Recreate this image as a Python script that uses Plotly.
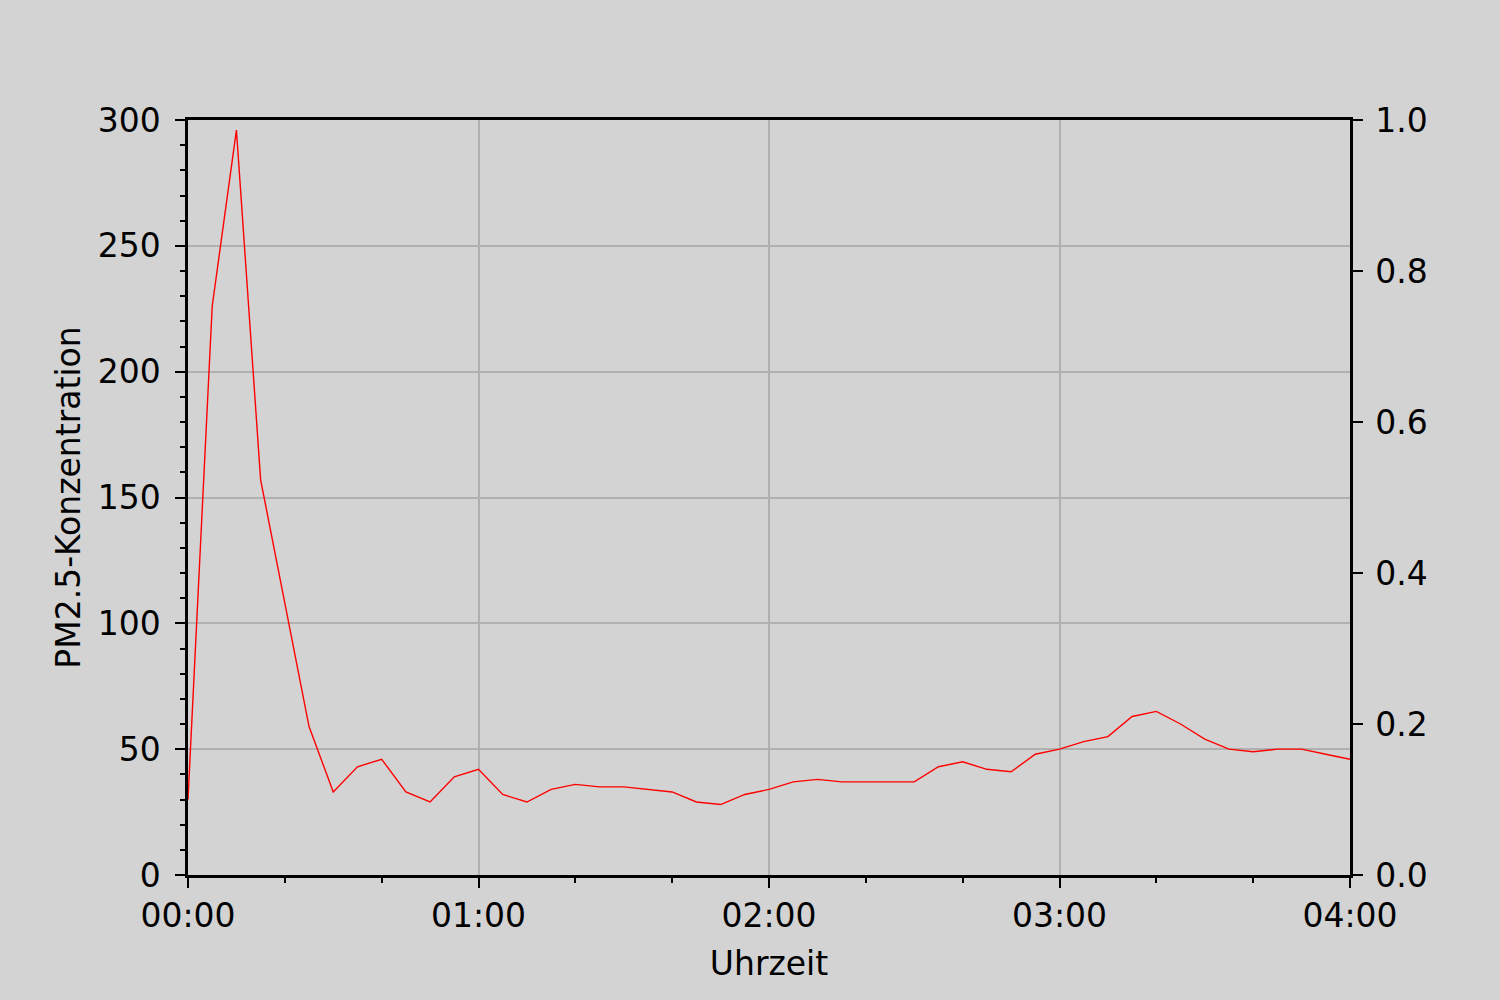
import pandas as pd
import plotly.graph_objects as go

times = pd.date_range("2024-01-01 00:00", "2024-01-01 04:00", freq="5min")
pm25 = [30, 226, 296, 157, 108, 59, 33, 43, 46, 33, 29, 39, 42, 32, 29, 34, 36, 35, 35,
        34, 33, 29, 28, 32, 34, 37, 38, 37, 37, 37, 37, 43, 45, 42, 41, 48, 50, 53, 55,
        63, 65, 60, 54, 50, 49, 50, 50, 48, 46]

x_tick_vals = pd.date_range("2024-01-01 00:00", "2024-01-01 04:00", freq="1h")
x_tick_text = ["00:00", "01:00", "02:00", "03:00", "04:00"]
y_ticks = [0, 50, 100, 150, 200, 250, 300]
y2_ticks = [0.0, 0.2, 0.4, 0.6, 0.8, 1.0]

FONT = "DejaVu Sans"
BG = "#d3d3d3"
GRID = "#b0b0b0"

fig = go.Figure()
fig.add_trace(go.Scatter(x=times, y=pm25, mode="lines",
                         line=dict(color="#ff0000", width=1.4),
                         showlegend=False, name="PM2.5"))
# empty series on the secondary (right) axis so it gets drawn
fig.add_trace(go.Scatter(x=[times[0], times[-1]], y=[None, None], yaxis="y2",
                         mode="lines", showlegend=False, hoverinfo="skip"))

fig.update_layout(
    width=1500, height=1000,
    paper_bgcolor=BG, plot_bgcolor=BG,
    margin=dict(l=188, r=150, t=120, b=125),
    font=dict(family=FONT, size=33, color="black"),
    showlegend=False,
    xaxis=dict(
        type="date",
        range=[times[0], times[-1]],
        tickvals=x_tick_vals, ticktext=x_tick_text,
        ticks="outside", ticklen=10, tickwidth=2, tickcolor="black",
        showline=True, linecolor="black", linewidth=2.5, mirror=True,
        showgrid=True, gridcolor=GRID, gridwidth=2,
        zeroline=False,
        minor=dict(dtick=20 * 60 * 1000, ticks="outside", ticklen=5,
                   tickwidth=1.5, tickcolor="black", showgrid=False),
        title=dict(text="Uhrzeit", font=dict(size=33), standoff=18),
    ),
    yaxis=dict(
        range=[0, 300],
        tickvals=y_ticks,
        ticks="outside", ticklen=10, tickwidth=2, tickcolor="black",
        ticklabelstandoff=8,
        showline=True, linecolor="black", linewidth=2.5, mirror=False,
        showgrid=True, gridcolor=GRID, gridwidth=2,
        zeroline=False,
        minor=dict(dtick=10, ticks="outside", ticklen=5, tickwidth=1.5,
                   tickcolor="black", showgrid=False),
        title=dict(text="PM2.5-Konzentration", font=dict(size=33), standoff=8),
    ),
    yaxis2=dict(
        overlaying="y", side="right", anchor="x",
        range=[0, 1], tickvals=y2_ticks, tickformat=".1f",
        ticks="outside", ticklen=10, tickwidth=2, tickcolor="black",
        ticklabelstandoff=6,
        showline=True, linecolor="black", linewidth=2.5,
        showgrid=False, zeroline=False,
    ),
)

fig.write_html("out.html", config={"displayModeBar": False},
               post_script="document.body.style.margin='0';document.body.style.padding='0';")
